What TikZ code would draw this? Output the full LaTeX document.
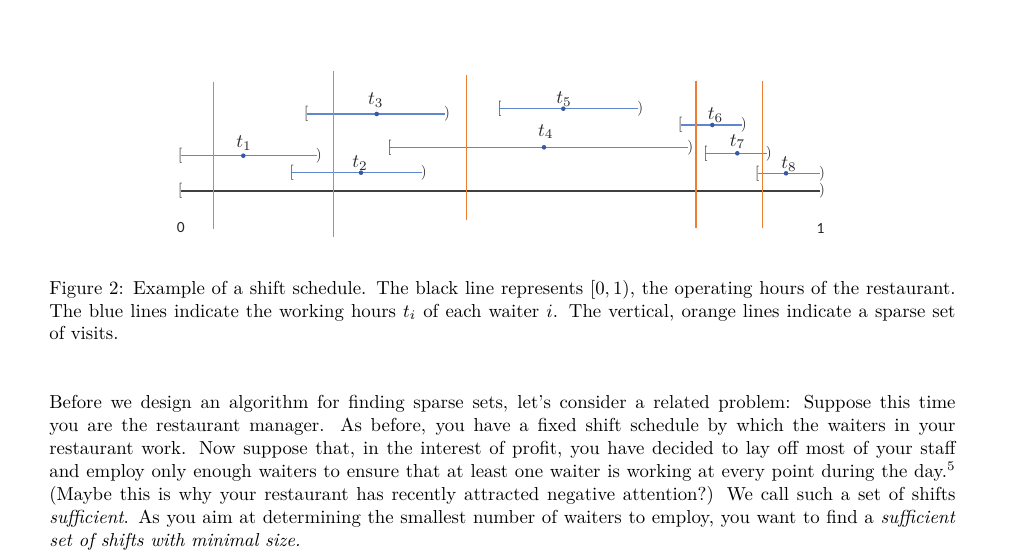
\documentclass[tikz,border=0pt]{standalone}
\usepackage{fontspec}
\newfontfamily\carlito{Carlito}
\definecolor{shiftblue}{RGB}{96,134,208}
\definecolor{dotblue}{RGB}{56,90,165}
\definecolor{visitorange}{RGB}{237,125,49}
\definecolor{axisgray}{RGB}{64,64,64}
\definecolor{brkgray}{RGB}{38,38,38}
\begin{document}
\begin{tikzpicture}[x=1pt,y=-1pt,
  shiftline/.style={draw=shiftblue,line width=1.5pt},
  visit/.style={draw=visitorange,line width=1.4pt},
  axisline/.style={draw=axisgray,line width=1.7pt},
  brk/.style={inner sep=0pt,text=brkgray,scale=1.5,font=\boldmath},
  dotn/.style={circle,fill=dotblue,inner sep=0pt,minimum size=4.6pt},
  lab/.style={anchor=base,inner sep=0pt,text=brkgray,scale=1.9},
  endlab/.style={inner sep=0pt,text=brkgray,font=\carlito\fontsize{15.5}{18}\selectfont},
  txt/.style={anchor=base west,inner sep=0pt,scale=1.88}]
\fill[white] (0,0) rectangle (1024,551);
\useasboundingbox (0,0) rectangle (1024,551);
% operating hours
\coordinate (ax0) at (180.7,190.7);
\coordinate (ax1) at (820,190.7);
\draw[axisline] (ax0) -- (ax1);
\node[brk] (axl) at ([xshift=-0.5pt]ax0) {[};
\node[brk] (axr) at ([xshift=2pt]ax1) {)};
\node[endlab] (zero) at (180.8,228) {0};
\node[endlab] (one) at (820.5,229) {1};
% shifts
\foreach \i/\a/\b/\y/\d/\lx/\ly in {
  1/180.7/316.7/155.7/243.3/244/147.5,
  2/292.3/421.7/172.7/361/360/167.3,
  3/306.7/445/114/376.7/375.8/104.3,
  4/390/688.3/147.3/544/545.7/136,
  5/500/638.3/108.7/563.3/564/103.3,
  6/680.7/741.7/125/712.3/715.5/119.3,
  7/706/766.7/153.3/737.3/737.5/146,
  8/757.7/820/173.3/786/789/168.3}{
  \coordinate (s\i) at (\a,\y);
  \coordinate (e\i) at (\b,\y);
  \draw[shiftline] (s\i) -- (e\i);
  \node[brk] (bl\i) at ([xshift=-0.5pt]s\i) {[};
  \node[brk] (br\i) at ([xshift=2pt]e\i) {)};
  \node[dotn] (d\i) at (\d,\y) {};
  \node[lab] (t\i) at (\lx,\ly) {$t_{\i}$};
}
% visits
\foreach \k/\x/\ya/\yb in {1/213.3/81.7/229.3, 2/333.3/70.7/236.7, 3/466.7/75/220, 4/696/80.7/228.3, 5/762.7/80.7/228.3}{
  \coordinate (vt\k) at (\x,\ya);
  \coordinate (vb\k) at (\x,\yb);
  \draw[visit] (vt\k) -- (vb\k);
}
% caption
\node[txt] (cap1) at (49,294.5) {\makebox[482pt][s]{Figure 2: Example of a shift schedule. The black line represents $[0,1)$, the operating hours of the restaurant.}};
\node[txt] (cap2) at (49,317) {\makebox[482pt][s]{The blue lines indicate the working hours $t_i$ of each waiter $i$. The vertical, orange lines indicate a sparse set}};
\node[txt] (cap3) at (49,339.5) {of visits.};
% paragraph
\node[txt] (p1) at (49,408) {\makebox[482pt][s]{Before we design an algorithm for finding sparse sets, let's consider a related problem: Suppose this time}};
\node[txt] (p2) at (49,431) {\makebox[482pt][s]{you are the restaurant manager. As before, you have a fixed shift schedule by which the waiters in your}};
\node[txt] (p3) at (49,454) {\makebox[482pt][s]{restaurant work. Now suppose that, in the interest of profit, you have decided to lay off most of your staff}};
\node[txt] (p4) at (49,477) {\makebox[482pt][s]{and employ only enough waiters to ensure that at least one waiter is working at every point during the day.$^5$}};
\node[txt] (p5) at (49,500) {\makebox[482pt][s]{(Maybe this is why your restaurant has recently attracted negative attention?) We call such a set of shifts}};
\node[txt] (p6) at (49,523) {\makebox[482pt][s]{\emph{sufficient}. As you aim at determining the smallest number of waiters to employ, you want to find a \emph{sufficient}}};
\node[txt] (p7) at (49,546) {\emph{set of shifts with minimal size.}};
\end{tikzpicture}
\end{document}
